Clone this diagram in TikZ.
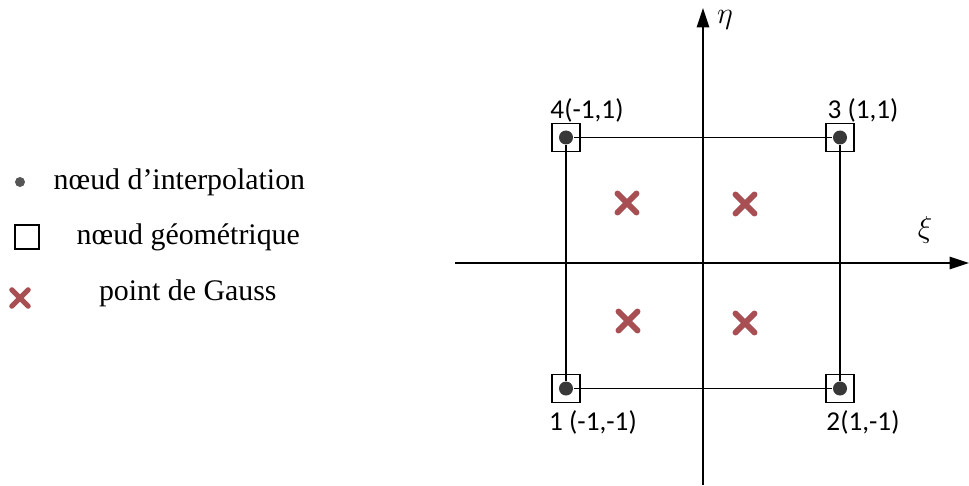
\documentclass[tikz,border=0pt]{standalone}
\usepackage{fontspec}
\setmainfont{Liberation Serif}
\newfontfamily\labelfont{Carlito}
\usetikzlibrary{arrows.meta, positioning, shapes.misc}
\definecolor{GaussRed}{rgb}{0.66, 0.31, 0.33}
\definecolor{DotGray}{rgb}{0.22, 0.22, 0.22}

\begin{document}
\begin{tikzpicture}[
    line width=1pt,
    axe/.style={-{Triangle[length=11pt, width=7pt]}},
    geo/.style={draw, rectangle, minimum size=0.56cm, inner sep=0pt},
    interp/.style={circle, fill=DotGray, minimum size=0.28cm, inner sep=0pt},
    gauss/.style={cross out, draw=GaussRed, line width=3.4pt, line cap=round,
        minimum size=0.26cm, inner sep=0pt},
    coord/.style={font=\labelfont\fontsize{15.5}{18}\selectfont, inner sep=0pt},
    legende/.style={font=\fontsize{17}{20}\selectfont, inner sep=0pt},
    node distance=6mm,
]

\useasboundingbox (-14.06,-4.44) rectangle (5.32,5.26);

% Axes xi et eta
\coordinate (xa) at (-4.96,0);
\coordinate (xb) at (5.32,0);
\coordinate (ya) at (0,-4.44);
\coordinate (yb) at (0,5.1);
\draw[axe] (xa) -- (xb);
\draw[axe] (ya) -- (yb);
\node (xi) at (4.44,0.66) {\LARGE$\xi$};
\node (eta) at (0.44,4.86) {\LARGE$\eta$};

% Noeuds de l'element (geometriques + interpolation)
\foreach \n/\x/\y in {1/-2.74/-2.51, 2/2.74/-2.51, 3/2.74/2.51, 4/-2.74/2.51}{
    \node[geo] (g\n) at (\x,\y) {};
    \node[interp] (p\n) at (\x,\y) {};
}
\draw (p1) -- (p2) -- (p3) -- (p4) -- (p1);

\node[coord] (l1) at (-2.20,-3.18) {1 (-1,-1)};
\node[coord] (l2) at (3.20,-3.18) {2(1,-1)};
\node[coord] (l3) at (3.20,3.06) {3 (1,1)};
\node[coord] (l4) at (-2.32,3.06) {4(-1,1)};

% Points de Gauss
\foreach \x/\y [count=\i] in {-1.52/1.2, 0.84/1.18, -1.5/-1.16, 0.84/-1.2}
    \node[gauss] (gp\i) at (\x,\y) {};

% Legende
\node[interp, minimum size=0.2cm, fill=DotGray!85] (lg1) at (-13.66,1.62) {};
\node[legende, right=0.54cm of lg1] (lt1) {nœud d’interpolation};
\node[geo, minimum size=0.48cm] (lg2) at (-13.52,0.52) {};
\node[legende, right=0.72cm of lg2] (lt2) {nœud géométrique};
\node[gauss, minimum size=0.22cm, line width=3pt] (lg3) at (-13.66,-0.7) {};
\node[legende, right=1.4cm of lg3, yshift=1mm] (lt3) {point de Gauss};

\end{tikzpicture}
\end{document}
